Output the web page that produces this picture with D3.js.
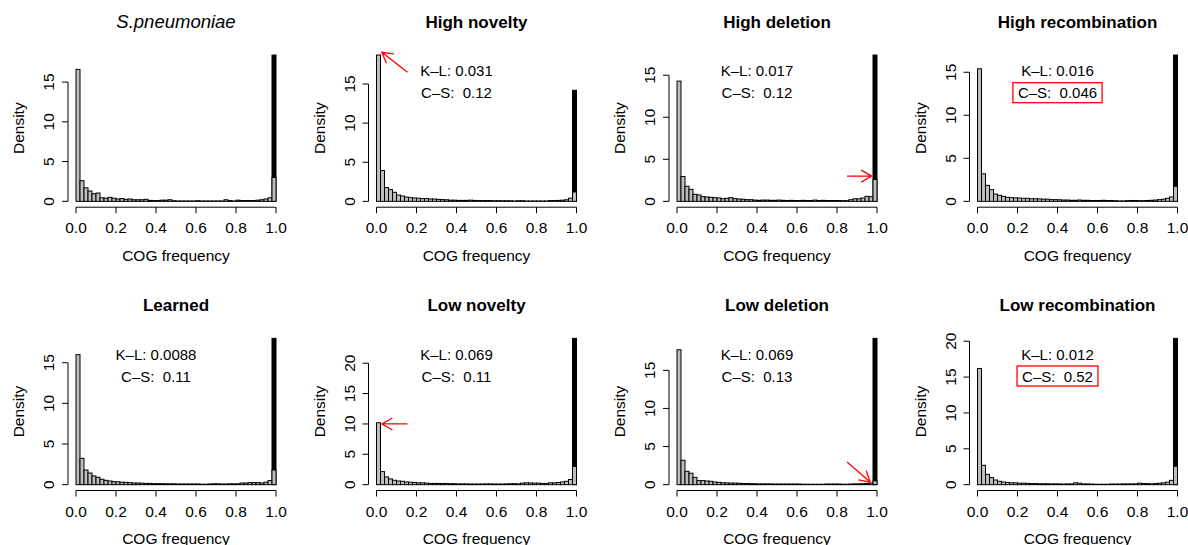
<!DOCTYPE html>
<html>
<head>
<meta charset="utf-8">
<script src="https://cdn.jsdelivr.net/npm/d3@7"></script>
<style>
  body { margin: 0; background: #fff; }
  text { font-family: "Liberation Sans", Arial, sans-serif; fill: #000; }
  .tick-label { font-size: 15.5px; }
  .axis-title { font-size: 15.5px; }
  .panel-title { font-size: 17px; font-weight: bold; }
  .stat { font-size: 15px; white-space: pre; }
</style>
</head>
<body>
<div id="chart"></div>
<script>
// Panel titles, in row order
const titles = ["S.pneumoniae", "High novelty", "High deletion", "High recombination",
                "Learned", "Low novelty", "Low deletion", "Low recombination"];

// K-L and C-S statistics (first panel has none)
const klValues = [null, "0.031", "0.017", "0.016", "0.0088", "0.069", "0.069", "0.012"];
const csValues = [null, "0.12", "0.12", "0.046", "0.11", "0.11", "0.13", "0.52"];
const csBoxed = [false, false, false, true, false, false, false, true];

// Height of the black bar in the last bin (0.98-1.0)
const coreHeights = [18.4, 14.2, 17.4, 17.0, 18.0, 24.1, 19.2, 20.4];

// Densities of the 50 gray bins, width 0.02
const densS = [16.6, 2.6, 1.7, 1.3, 0.95, 1.05, 0.45, 0.4, 0.5, 0.4, 0.3, 0.35, 0.25, 0.3, 0.2, 0.2, 0.2, 0.25, 0.12, 0.1, 0.1, 0.15, 0.15, 0.2, 0.08, 0.05, 0.05, 0.05, 0.05, 0.05, 0.08, 0.05, 0.05, 0.05, 0.05, 0.05, 0.05, 0.2, 0.1, 0.05, 0.15, 0.1, 0.1, 0.1, 0.1, 0.15, 0.2, 0.3, 0.45, 3.0];
const densHighNov = [18.7, 3.94, 1.76, 1.5, 1.16, 0.8, 0.68, 0.55, 0.47, 0.43, 0.4, 0.35, 0.35, 0.3, 0.3, 0.25, 0.22, 0.2, 0.15, 0.15, 0.12, 0.12, 0.12, 0.15, 0.12, 0.1, 0.1, 0.1, 0.1, 0.08, 0.08, 0.08, 0.08, 0.08, 0.05, 0.08, 0.08, 0.05, 0.05, 0.05, 0.05, 0.05, 0.05, 0.1, 0.1, 0.12, 0.15, 0.2, 0.4, 1.2];
const densHighDel = [14.3, 2.95, 1.8, 1.43, 0.84, 0.76, 0.56, 0.52, 0.48, 0.44, 0.4, 0.32, 0.36, 0.44, 0.32, 0.28, 0.25, 0.2, 0.2, 0.15, 0.12, 0.15, 0.15, 0.12, 0.12, 0.15, 0.12, 0.1, 0.12, 0.1, 0.1, 0.12, 0.1, 0.1, 0.15, 0.1, 0.12, 0.1, 0.1, 0.1, 0.1, 0.08, 0.08, 0.2, 0.3, 0.3, 0.4, 0.6, 0.55, 2.6];
const densHighRec = [15.4, 3.2, 1.86, 1.36, 0.85, 0.7, 0.58, 0.47, 0.43, 0.4, 0.38, 0.35, 0.35, 0.3, 0.3, 0.28, 0.25, 0.25, 0.2, 0.2, 0.18, 0.15, 0.15, 0.12, 0.12, 0.15, 0.12, 0.12, 0.1, 0.1, 0.1, 0.12, 0.1, 0.1, 0.08, 0.05, 0.05, 0.08, 0.1, 0.1, 0.08, 0.08, 0.1, 0.12, 0.15, 0.2, 0.25, 0.35, 0.5, 1.74];
const densLearned = [16.0, 3.24, 1.8, 1.43, 1.07, 0.9, 0.66, 0.53, 0.45, 0.37, 0.35, 0.3, 0.28, 0.25, 0.2, 0.2, 0.18, 0.15, 0.15, 0.12, 0.12, 0.12, 0.1, 0.1, 0.1, 0.08, 0.08, 0.08, 0.08, 0.08, 0.08, 0.05, 0.05, 0.08, 0.1, 0.1, 0.08, 0.08, 0.1, 0.1, 0.1, 0.2, 0.2, 0.25, 0.25, 0.25, 0.2, 0.3, 0.5, 1.8];
const densLowNov = [10.2, 2.15, 1.27, 0.94, 0.72, 0.6, 0.55, 0.44, 0.4, 0.35, 0.3, 0.3, 0.25, 0.2, 0.2, 0.2, 0.18, 0.2, 0.15, 0.15, 0.12, 0.12, 0.12, 0.1, 0.1, 0.1, 0.1, 0.12, 0.12, 0.1, 0.1, 0.1, 0.12, 0.15, 0.15, 0.12, 0.25, 0.3, 0.28, 0.25, 0.25, 0.2, 0.2, 0.3, 0.3, 0.35, 0.45, 0.55, 0.85, 3.0];
const densLowDel = [17.7, 3.2, 1.75, 1.5, 0.96, 0.53, 0.53, 0.48, 0.44, 0.35, 0.3, 0.25, 0.22, 0.2, 0.2, 0.18, 0.15, 0.15, 0.12, 0.12, 0.1, 0.1, 0.1, 0.1, 0.08, 0.08, 0.08, 0.08, 0.08, 0.08, 0.08, 0.05, 0.05, 0.05, 0.05, 0.05, 0.05, 0.08, 0.08, 0.08, 0.08, 0.05, 0.05, 0.08, 0.1, 0.1, 0.12, 0.15, 0.2, 0.5];
const densLowRec = [16.2, 2.7, 1.44, 0.98, 0.65, 0.47, 0.37, 0.3, 0.25, 0.25, 0.2, 0.2, 0.18, 0.15, 0.15, 0.12, 0.12, 0.12, 0.1, 0.1, 0.1, 0.08, 0.1, 0.1, 0.25, 0.2, 0.1, 0.1, 0.08, 0.05, 0.05, 0.05, 0.05, 0.08, 0.08, 0.08, 0.1, 0.1, 0.1, 0.1, 0.2, 0.15, 0.15, 0.1, 0.15, 0.2, 0.25, 0.35, 0.6, 2.56];

const densities = [densS, densHighNov, densHighDel, densHighRec, densLearned, densLowNov, densLowDel, densLowRec];

// Tick labels
const xTicks = [0, 0.2, 0.4, 0.6, 0.8, 1.0];
const yTickStep = 5;

// Red arrows in data units: panel, from (x0,y0) to tip (x1,y1)
const arrows = [
  { panel: 1, x0: 0.155, y0: 16.5, x1: 0.027, y1: 19.06 },
  { panel: 2, x0: 0.85, y0: 3.0, x1: 0.973, y1: 3.0 },
  { panel: 5, x0: 0.155, y0: 10.0, x1: 0.027, y1: 10.0 },
  { panel: 6, x0: 0.85, y0: 2.97, x1: 0.966, y1: 0.34 }
];

const binWidth = 0.02;

// Layout
const W = 1188, H = 545;
const colStep = 300.5, rowTops = [49.2, 332.5];
const plotLeft0 = 68, plotW = 216, plotH = 158;

const svg = d3.select("#chart").append("svg")
    .attr("width", W)
    .attr("height", H)
    .style("background", "#fff");

titles.forEach((title, i) => {
    const col = i % 4, row = Math.floor(i / 4);
    const left = plotLeft0 + col * colStep;
    const top = rowTops[row];
    const bottom = top + plotH;
    const dens = densities[i];
    const ymax = Math.max(d3.max(dens), coreHeights[i]);

    const x = d3.scaleLinear().domain([-0.04, 1.04]).range([left, left + plotW]);
    const y = d3.scaleLinear().domain([-0.04 * ymax, 1.04 * ymax]).range([bottom, top]);

    const g = svg.append("g");

    // black bar in the last bin
    g.append("rect")
        .attr("x", x(1 - binWidth))
        .attr("y", y(coreHeights[i]))
        .attr("width", x(1) - x(1 - binWidth))
        .attr("height", y(0) - y(coreHeights[i]))
        .attr("fill", "#000")
        .attr("stroke", "#000")
        .attr("stroke-width", 1);

    // gray histogram bars
    g.selectAll("rect.bar")
        .data(dens)
        .join("rect")
        .attr("class", "bar")
        .attr("x", (d, k) => x(k * binWidth))
        .attr("y", d => y(d))
        .attr("width", x(binWidth) - x(0))
        .attr("height", d => y(0) - y(d))
        .attr("fill", "#bebebe")
        .attr("stroke", "#000")
        .attr("stroke-width", 1);

    // x axis (R style: line from first to last tick)
    const xa = g.append("g").attr("transform", "translate(0," + bottom + ")");
    xa.append("line")
        .attr("x1", x(0)).attr("x2", x(1))
        .attr("stroke", "#000");
    xa.selectAll("line.tk")
        .data(xTicks)
        .join("line")
        .attr("class", "tk")
        .attr("x1", d => x(d)).attr("x2", d => x(d))
        .attr("y1", 0).attr("y2", 6)
        .attr("stroke", "#000");
    xa.selectAll("text")
        .data(xTicks)
        .join("text")
        .attr("class", "tick-label")
        .attr("x", d => x(d))
        .attr("y", 26)
        .attr("text-anchor", "middle")
        .text(d3.format(".1f"));

    g.append("text")
        .attr("class", "axis-title")
        .attr("x", x(0.5))
        .attr("y", bottom + 53.5)
        .attr("text-anchor", "middle")
        .text("COG frequency");

    // y axis
    const yTicks = d3.range(0, ymax + 1e-9, yTickStep);
    const ya = g.append("g").attr("transform", "translate(" + left + ",0)");
    ya.append("line")
        .attr("y1", y(yTicks[0])).attr("y2", y(yTicks[yTicks.length - 1]))
        .attr("stroke", "#000");
    ya.selectAll("line.tk")
        .data(yTicks)
        .join("line")
        .attr("class", "tk")
        .attr("y1", d => y(d)).attr("y2", d => y(d))
        .attr("x1", 0).attr("x2", -6)
        .attr("stroke", "#000");
    ya.selectAll("text")
        .data(yTicks)
        .join("text")
        .attr("class", "tick-label")
        .attr("transform", d => "translate(-14," + y(d) + ") rotate(-90)")
        .attr("text-anchor", "middle")
        .text(d => d);

    g.append("text")
        .attr("class", "axis-title")
        .attr("transform", "translate(" + (left - 44) + "," + (top + plotH / 2) + ") rotate(-90)")
        .attr("text-anchor", "middle")
        .text("Density");

    // title
    const t = g.append("text")
        .attr("class", "panel-title")
        .attr("x", left + plotW / 2)
        .attr("y", top - 21.5)
        .attr("text-anchor", "middle")
        .text(title);
    if (i === 0) {
        t.style("font-weight", "normal").style("font-style", "italic").style("font-size", "18.5px");
    }

    // statistics
    if (klValues[i] !== null) {
        g.append("text")
            .attr("class", "stat")
            .attr("x", x(0.4))
            .attr("y", top + 27)
            .attr("text-anchor", "middle")
            .text("K\u2013L: " + klValues[i]);
        const cs = g.append("text")
            .attr("class", "stat")
            .attr("x", x(0.4))
            .attr("y", top + 49)
            .attr("text-anchor", "middle")
            .text("C\u2013S:  " + csValues[i]);
        if (csBoxed[i]) {
            const bb = cs.node().getBBox();
            g.append("rect")
                .attr("x", bb.x - 5)
                .attr("y", bb.y - 1.5)
                .attr("width", bb.width + 10)
                .attr("height", bb.height + 3)
                .attr("fill", "none")
                .attr("stroke", "#ff0000")
                .attr("stroke-width", 1.3);
        }
    }

    // red arrows
    arrows.filter(a => a.panel === i).forEach(a => {
        const px0 = x(a.x0), py0 = y(a.y0), px1 = x(a.x1), py1 = y(a.y1);
        const ang = Math.atan2(py1 - py0, px1 - px0);
        const len = 12, spread = Math.PI / 6;
        const path = d3.path();
        path.moveTo(px0, py0);
        path.lineTo(px1, py1);
        path.moveTo(px1 - len * Math.cos(ang - spread), py1 - len * Math.sin(ang - spread));
        path.lineTo(px1, py1);
        path.lineTo(px1 - len * Math.cos(ang + spread), py1 - len * Math.sin(ang + spread));
        g.append("path")
            .attr("d", path.toString())
            .attr("fill", "none")
            .attr("stroke", "#ff0000")
            .attr("stroke-width", 1.3);
    });
});
</script>
</body>
</html>
